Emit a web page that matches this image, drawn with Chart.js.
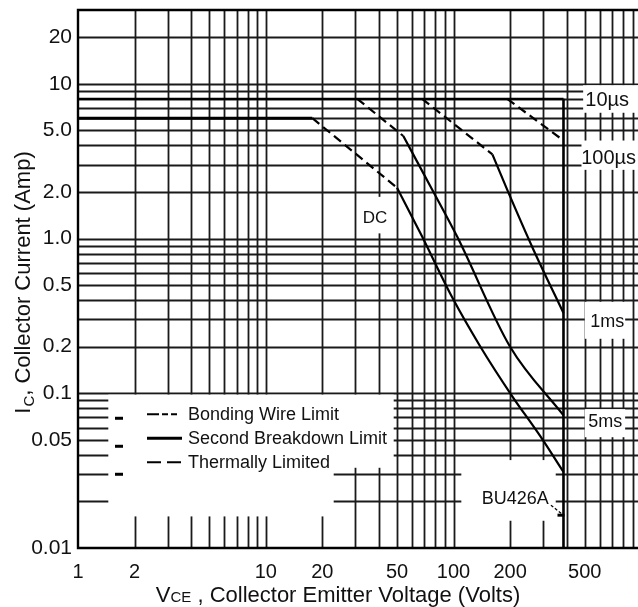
<!DOCTYPE html>
<html>
<head>
<meta charset="utf-8">
<script src="https://cdn.jsdelivr.net/npm/chart.js@4.4.1/dist/chart.umd.min.js"></script>
<style>
  html, body { margin: 0; padding: 0; background: #fff; overflow: hidden; }
  #wrap { position: relative; width: 638px; height: 607px; }
</style>
</head>
<body>
<div id="wrap"><canvas id="soa"></canvas></div>
<script>
// axis ticks
const xTicks = [1, 2, 10, 20, 50, 100, 200, 500];
const yTicks = [0.01, 0.05, 0.1, 0.2, 0.5, 1, 2, 5, 10, 20];
const yTickText = ['0.01', '0.05', '0.1', '0.2', '0.5', '1.0', '2.0', '5.0', '10', '20'];

// log grid
const xGrid = [2, 3, 4, 5, 6, 7, 8, 9, 10, 20, 30, 40, 50, 60, 70, 80, 90, 100, 200, 300, 400, 500, 600, 700, 800, 900];
const yGrid = [0.02, 0.03, 0.04, 0.05, 0.06, 0.07, 0.08, 0.09, 0.1, 0.2, 0.3, 0.4, 0.5, 0.6, 0.7, 0.8, 0.9, 1, 2, 3, 4, 5, 6, 7, 8, 9, 10, 20];

// pulsed current limit (10us) and VCEO limit
const pulseV = [1, 385];
const pulseI = [8, 8];
const vceoV = [385, 385];
const vceoI = [8, 0.01];

// DC
const dcBondV = [1, 17.7];
const dcBondI = [6, 6];
const dcThermV = [17.7, 50];
const dcThermI = [6, 2.13];
const dcSbV = [50, 68, 98, 139, 205, 289, 385];
const dcSbI = [2.13, 1.03, 0.42, 0.2, 0.096, 0.053, 0.031];

// 5 ms
const ms5ThermV = [30.7, 54];
const ms5ThermI = [8, 4.6];
const ms5SbV = [54, 77, 104.5, 200, 385];
const ms5SbI = [4.6, 2.07, 1.03, 0.2, 0.072];

// 1 ms
const ms1ThermV = [68, 161];
const ms1ThermI = [8, 3.5];
const ms1SbV = [161, 193, 266, 385];
const ms1SbI = [3.5, 2.07, 0.85, 0.33];

// 100 us
const us100ThermV = [193, 385];
const us100ThermI = [8, 4.3];

// BU426A pointer
const bu426V = [330, 385];
const bu426I = [0.0189, 0.0163];

// curve labels
const labelText = ['10\u00b5s', '100\u00b5s', '1ms', '5ms', 'DC', 'BU426A'];
const labelV = [658, 670, 658, 643, 38.2, 213];
const labelI = [7.85, 3.3, 0.29, 0.065, 1.36, 0.0208];
const labelSize = [20, 20, 18, 18, 17, 18];

// areas where the sheet has no grid: [vLo, vHi, iLo, iHi]
const blanks = [
  [1.45, 48, 0.033, 0.098],
  [1.45, 23, 0.016, 0.034],
  [110, 350, 0.015, 0.037],
  [32, 44, 1.08, 1.86],
  [490, 960, 6.5, 9.8],
  [480, 960, 2.78, 4.3],
  [500, 820, 0.225, 0.39],
  [500, 820, 0.052, 0.079]
];

const legendText = ['Bonding Wire Limit', 'Second Breakdown Limit', 'Thermally Limited'];
const legendDash = [[12, 3, 6, 3, 6, 10], [], [14, 6, 14, 10]];

const pts = (xs, ys) => xs.map((x, i) => ({ x: x, y: ys[i] }));

const base = { borderColor: '#000', borderWidth: 2.2, pointRadius: 0, showLine: true, fill: false };
const dashed = Object.assign({}, base, { borderDash: [9, 5] });
const curve = Object.assign({}, base, { cubicInterpolationMode: 'monotone' });

const FONT = '"Liberation Sans", Arial, sans-serif';

const sheet = {
  id: 'sheet',
  beforeDatasetsDraw(chart) {
    const { ctx, chartArea: a, scales: { x, y } } = chart;
    ctx.save();
    // grid
    ctx.strokeStyle = '#1a1a1a';
    ctx.lineWidth = 1.8;
    ctx.beginPath();
    xGrid.forEach(v => {
      const px = Math.round(x.getPixelForValue(v)) + 0.5;
      ctx.moveTo(px, a.top); ctx.lineTo(px, a.bottom);
    });
    yGrid.forEach(v => {
      const py = Math.round(y.getPixelForValue(v)) + 0.5;
      ctx.moveTo(a.left, py); ctx.lineTo(a.right, py);
    });
    ctx.stroke();

    // blank areas
    ctx.fillStyle = '#fff';
    blanks.forEach(b => {
      const x0 = x.getPixelForValue(b[0]), x1 = x.getPixelForValue(b[1]);
      const y0 = y.getPixelForValue(b[3]), y1 = y.getPixelForValue(b[2]);
      ctx.fillRect(x0, y0, x1 - x0, y1 - y0);
    });

    // frame: top, left, bottom
    ctx.strokeStyle = '#000';
    ctx.lineWidth = 2.4;
    ctx.beginPath();
    ctx.moveTo(a.right, a.top); ctx.lineTo(a.left, a.top);
    ctx.lineTo(a.left, a.bottom); ctx.lineTo(a.right, a.bottom);
    ctx.stroke();

    // curve labels
    ctx.fillStyle = '#111';
    ctx.textAlign = 'center';
    ctx.textBaseline = 'middle';
    labelText.forEach((t, i) => {
      ctx.font = labelSize[i] + 'px ' + FONT;
      ctx.fillText(t, x.getPixelForValue(labelV[i]), y.getPixelForValue(labelI[i]));
    });

    // legend
    const lx = a.left + 69;
    const ly = y.getPixelForValue(0.1) + 21;
    ctx.font = '18px ' + FONT;
    ctx.textAlign = 'left';
    legendText.forEach((t, i) => {
      const yy = ly + i * 24;
      ctx.strokeStyle = '#000';
      ctx.lineWidth = i === 1 ? 3 : 2;
      ctx.setLineDash(legendDash[i]);
      ctx.beginPath();
      ctx.moveTo(lx, yy); ctx.lineTo(lx + 35, yy);
      ctx.stroke();
      ctx.setLineDash([]);
      ctx.lineWidth = 3;
      ctx.beginPath();
      ctx.moveTo(lx - 32, yy + 4 + i * 4); ctx.lineTo(lx - 24, yy + 4 + i * 4);
      ctx.stroke();
      ctx.fillText(t, lx + 41, yy + 1);
    });
    ctx.restore();
  },
  afterDatasetsDraw(chart) {
    // end tick of the BU426A pointer
    const { ctx, scales: { x, y } } = chart;
    const n = bu426V.length - 1;
    const px = x.getPixelForValue(bu426V[n]), py = y.getPixelForValue(bu426I[n]);
    ctx.save();
    ctx.strokeStyle = '#000';
    ctx.lineWidth = 3;
    ctx.beginPath();
    ctx.moveTo(px - 6, py); ctx.lineTo(px + 1, py);
    ctx.stroke();
    ctx.restore();
  },
  afterDraw(chart) {
    const { ctx, chartArea: a } = chart;
    ctx.save();
    ctx.fillStyle = '#111';
    ctx.textBaseline = 'alphabetic';
    ctx.textAlign = 'left';
    // x title
    const big = '22px ' + FONT, small = '15px ' + FONT;
    const rest = ' , Collector Emitter Voltage (Volts)';
    ctx.font = big; const wV = ctx.measureText('V').width, wR = ctx.measureText(rest).width;
    ctx.font = small; const wC = ctx.measureText('CE').width;
    let sx = (a.left + a.right) / 2 - 20 - (wV + wC + wR) / 2;
    const by = 602;
    ctx.font = big; ctx.fillText('V', sx, by); sx += wV;
    ctx.font = small; ctx.fillText('CE', sx, by); sx += wC;
    ctx.font = big; ctx.fillText(rest, sx, by);

    // y title
    ctx.translate(30, (a.top + a.bottom) / 2 + 4);
    ctx.rotate(-Math.PI / 2);
    const yRest = ', Collector Current (Amp)';
    ctx.font = big; const wI = ctx.measureText('I').width, wY = ctx.measureText(yRest).width;
    ctx.font = small; const wc = ctx.measureText('C').width;
    let tx = -(wI + wc + wY) / 2;
    ctx.font = big; ctx.fillText('I', tx, 0); tx += wI + 1;
    ctx.font = small; ctx.fillText('C', tx, 4); tx += wc;
    ctx.font = big; ctx.fillText(yRest, tx, 0);
    ctx.restore();
  }
};

new Chart(document.getElementById('soa'), {
  type: 'scatter',
  data: {
    datasets: [
      Object.assign({}, base, { data: pts(pulseV, pulseI) }),
      Object.assign({}, base, { data: pts(vceoV, vceoI), borderWidth: 2.6 }),
      Object.assign({}, base, { data: pts(dcBondV, dcBondI), borderWidth: 3 }),
      Object.assign({}, dashed, { data: pts(dcThermV, dcThermI) }),
      Object.assign({}, curve, { data: pts(dcSbV, dcSbI) }),
      Object.assign({}, dashed, { data: pts(ms5ThermV, ms5ThermI) }),
      Object.assign({}, curve, { data: pts(ms5SbV, ms5SbI) }),
      Object.assign({}, dashed, { data: pts(ms1ThermV, ms1ThermI) }),
      Object.assign({}, curve, { data: pts(ms1SbV, ms1SbI) }),
      Object.assign({}, dashed, { data: pts(us100ThermV, us100ThermI) }),
      Object.assign({}, base, { data: pts(bu426V, bu426I), borderWidth: 1.2, borderDash: [3, 2] })
    ]
  },
  options: {
    responsive: true,
    maintainAspectRatio: false,
    animation: false,
    layout: { padding: { top: 10, right: 0, left: 0, bottom: 0 } },
    plugins: { legend: { display: false }, tooltip: { enabled: false } },
    scales: {
      x: {
        type: 'logarithmic',
        min: 1,
        max: 960,
        grid: { display: false, drawTicks: false },
        border: { display: false },
        afterBuildTicks: s => { s.ticks = xTicks.map(v => ({ value: v })); },
        afterFit: s => { s.height = 59; s.paddingLeft = 0; s.paddingRight = 0; },
        ticks: {
          autoSkip: false,
          maxRotation: 0,
          padding: 12,
          color: '#111',
          font: { family: FONT, size: 20 },
          callback: v => String(v)
        }
      },
      y: {
        type: 'logarithmic',
        min: 0.01,
        max: 30,
        grid: { display: false, drawTicks: false },
        border: { display: false },
        afterBuildTicks: s => { s.ticks = yTicks.map(v => ({ value: v })); },
        afterFit: s => { s.width = 78; s.paddingTop = 0; s.paddingBottom = 0; },
        ticks: {
          autoSkip: false,
          padding: 6,
          color: '#111',
          font: { family: FONT, size: 21 },
          callback: v => yTickText[yTicks.indexOf(v)]
        }
      }
    }
  },
  plugins: [sheet]
});
</script>
</body>
</html>
